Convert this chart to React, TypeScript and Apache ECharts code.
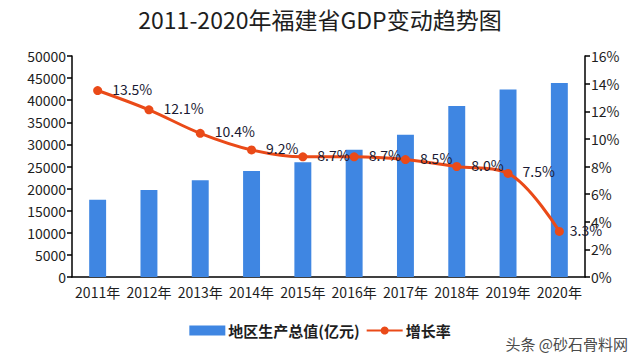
import React, { useEffect, useRef } from "react";
import * as echarts from "echarts";

const categories = ["2011年", "2012年", "2013年", "2014年", "2015年", "2016年", "2017年", "2018年", "2019年", "2020年"];
const gdpValues = [17500, 19700, 21900, 24000, 25980, 28800, 32200, 38700, 42400, 43900];
const growthRates = [13.5, 12.1, 10.4, 9.2, 8.7, 8.7, 8.5, 8.0, 7.5, 3.3];
const titleText = "2011-2020年福建省GDP变动趋势图";
const barName = "地区生产总值(亿元)";
const lineName = "增长率";
const watermark = "头条 @砂石骨料网";

const FONT = '"Noto Sans CJK SC", "Noto Sans", sans-serif';

export default function App() {
  const ref = useRef<HTMLDivElement>(null);
  useEffect(() => {
    if (!ref.current) return;
    const chart = echarts.init(ref.current, undefined, { renderer: "svg" });
    const lastIdx = growthRates.length - 1;
    chart.setOption({
      animation: false,
      backgroundColor: "#ffffff",
      textStyle: { fontFamily: FONT },
      title: {
        text: titleText,
        left: "center",
        top: 2,
        textStyle: { fontFamily: FONT, fontSize: 23, fontWeight: "normal", color: "#1e1e1e" },
      },
      legend: {
        bottom: 18,
        left: "center",
        itemWidth: 36,
        itemHeight: 10,
        itemGap: 6,
        textStyle: { fontFamily: FONT, fontSize: 15, fontWeight: "bold", color: "#1e1e1e", padding: [0, 0, 0, -2] },
        data: [
          { name: barName, icon: "rect" },
          { name: lineName },
        ],
      },
      grid: { left: 72, right: 55, top: 56, bottom: 84 },
      xAxis: {
        type: "category",
        data: categories,
        boundaryGap: true,
        axisLine: { lineStyle: { color: "#000", width: 1.5 } },
        axisTick: { alignWithLabel: false, length: 5, lineStyle: { color: "#000", width: 1.5 } },
        axisLabel: { fontFamily: FONT, fontSize: 14, color: "#1e1e1e", margin: 8, interval: 0 },
      },
      yAxis: [
        {
          type: "value",
          min: 0,
          max: 50000,
          interval: 5000,
          axisLine: { show: true, lineStyle: { color: "#000", width: 1.5 } },
          axisTick: { show: true, length: 5, lineStyle: { color: "#000", width: 1.5 } },
          axisLabel: {
            fontFamily: FONT,
            fontSize: 14,
            color: "#1e1e1e",
            margin: 6,
            formatter: (v: number) => String(v),
          },
          splitLine: { show: false },
        },
        {
          type: "value",
          min: 0,
          max: 16,
          interval: 2,
          position: "right",
          axisLine: { show: true, lineStyle: { color: "#000", width: 1.5 } },
          axisTick: { show: true, length: 5, lineStyle: { color: "#000", width: 1.5 } },
          axisLabel: { fontFamily: FONT, fontSize: 14, color: "#1e1e1e", margin: 6, formatter: "{value}%" },
          splitLine: { show: false },
        },
      ],
      series: [
        {
          name: barName,
          type: "bar",
          data: gdpValues,
          barWidth: "33%",
          itemStyle: { color: "#3f86e2" },
        },
        {
          name: lineName,
          type: "line",
          yAxisIndex: 1,
          data: growthRates.map((v, i) =>
            i === lastIdx ? { value: v, label: { offset: [-4, -1] } } : v
          ),
          smooth: 0.35,
          symbol: "circle",
          symbolSize: 9,
          lineStyle: { color: "#ea4a18", width: 3 },
          itemStyle: { color: "#ea4a18" },
          label: {
            show: true,
            position: "right",
            distance: 10,
            offset: [0, -2],
            fontFamily: FONT,
            fontSize: 14,
            color: "#1a1a33",
            formatter: (p: any) => Number(p.value).toFixed(1) + "%",
          },
          z: 3,
        },
      ],
      graphic: [
        {
          type: "text",
          right: 12,
          bottom: 10,
          style: { text: watermark, fontFamily: FONT, fontSize: 15, fill: "#4a4a4a" },
        },
      ],
    });
    return () => chart.dispose();
  }, []);
  return <div ref={ref} style={{ width: 640, height: 361, position: "absolute", left: 0, top: 0 }} />;
}
